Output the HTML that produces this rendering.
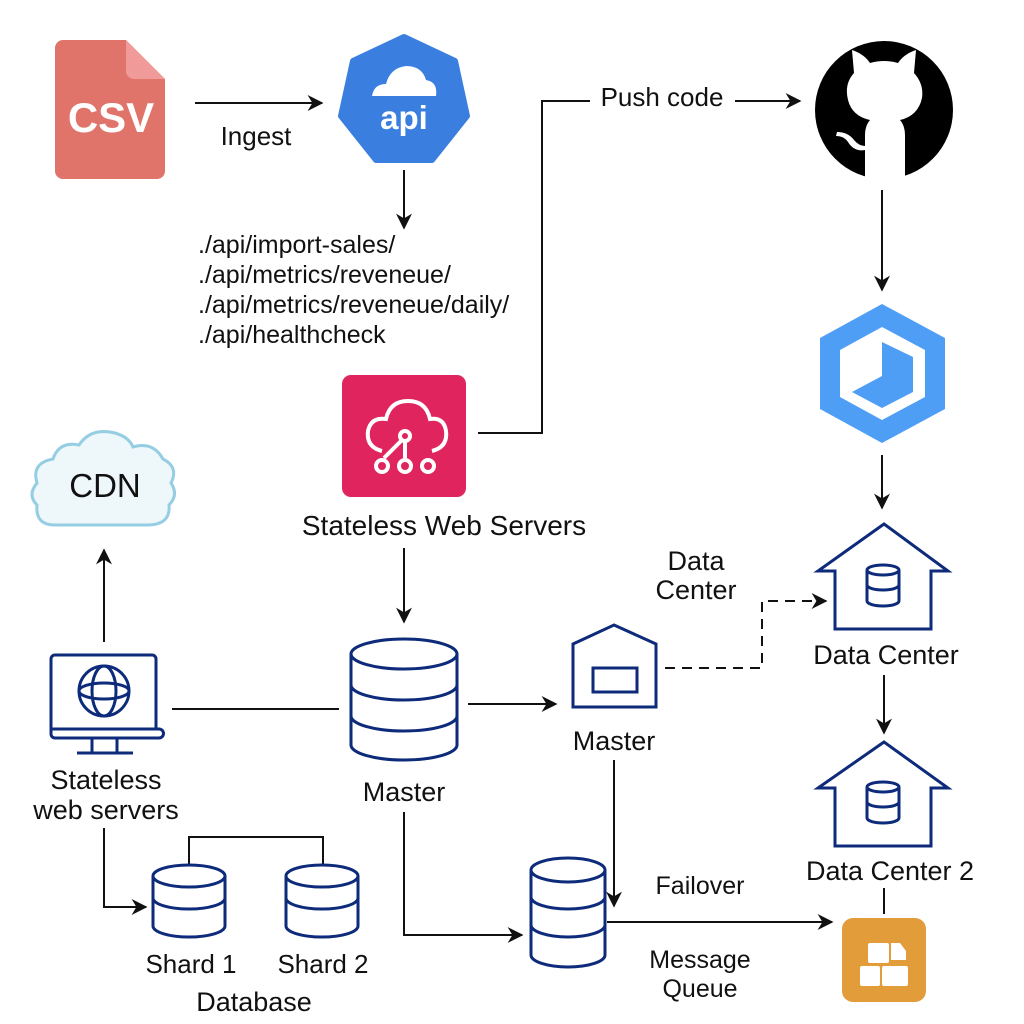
<!DOCTYPE html>
<html><head><meta charset="utf-8"><style>
html,body{margin:0;padding:0;background:#fff}
svg{display:block}
text{font-family:"Liberation Sans",sans-serif;fill:#111}
</style></head><body>
<svg width="1024" height="1024" viewBox="0 0 1024 1024" xmlns="http://www.w3.org/2000/svg">
<defs>
<marker id="b" viewBox="0 0 10 10" refX="9" refY="5" markerWidth="16" markerHeight="16" markerUnits="userSpaceOnUse" orient="auto"><path d="M0,0 L10,5 L0,10 L3,5 z" fill="#111"/></marker>
</defs>
<rect width="1024" height="1024" fill="#fff"/>
<g stroke="#111" stroke-width="2" fill="none">
<line x1="195" y1="103" x2="322" y2="103" marker-end="url(#b)"/>
<line x1="404" y1="170" x2="404" y2="228" marker-end="url(#b)"/>
<polyline points="478,433 542,433 542,101 590,101"/>
<line x1="735" y1="101" x2="800" y2="101" marker-end="url(#b)"/>
<line x1="882" y1="190" x2="882" y2="290" marker-end="url(#b)"/>
<line x1="882" y1="455" x2="882" y2="508" marker-end="url(#b)"/>
<line x1="884" y1="675" x2="884" y2="733" marker-end="url(#b)"/>
<line x1="884" y1="888" x2="884" y2="914"/>
<line x1="404" y1="548" x2="404" y2="622" marker-end="url(#b)"/>
<line x1="172" y1="709" x2="339" y2="709"/>
<line x1="468" y1="704" x2="556" y2="704" marker-end="url(#b)"/>
<polyline points="665,668 762,668 762,601 826,601" stroke-dasharray="10,7" marker-end="url(#b)"/>
<line x1="614" y1="760" x2="614" y2="906" marker-end="url(#b)"/>
<line x1="607" y1="922" x2="832" y2="922" marker-end="url(#b)"/>
<polyline points="404,812 404,935 522,935" marker-end="url(#b)"/>
<line x1="104" y1="642" x2="104" y2="550" marker-end="url(#b)"/>
<polyline points="104,828 104,907 146,907" marker-end="url(#b)"/>
<polyline points="189,865 189,837 323,837 323,865"/>
</g>
<!-- CSV -->
<path d="M63,40 H126 L165,79 V171 a8,8 0 0 1 -8,8 H63 a8,8 0 0 1 -8,-8 V48 a8,8 0 0 1 8,-8z" fill="#e0746b"/>
<path d="M126,40 L165,79 H134 a8,8 0 0 1 -8,-8z" fill="#f09a99"/>
<text x="111" y="132" font-size="42" font-weight="bold" text-anchor="middle" style="fill:#fff">CSV</text>
<text x="256" y="145" font-size="26" text-anchor="middle">Ingest</text>
<!-- API heptagon -->
<polygon points="404,37 455,61 467,116 432,160 376,160 341,116 353,61" fill="#3a7fe0" stroke="#3a7fe0" stroke-width="6" stroke-linejoin="round"/>
<path d="M372,96 q2,-12 14,-12 q4,-16 20,-18 q16,0 20,14 q12,2 10,16z" fill="#fff"/>
<text x="404" y="129" font-size="33" font-weight="bold" text-anchor="middle" style="fill:#fff">api</text>
<g font-size="25">
<text x="198" y="253">./api/import-sales/</text>
<text x="198" y="283">./api/metrics/reveneue/</text>
<text x="198" y="313">./api/metrics/reveneue/daily/</text>
<text x="198" y="343">./api/healthcheck</text>
</g>
<text x="662" y="106" font-size="26" text-anchor="middle">Push code</text>
<!-- GitHub -->
<circle cx="884" cy="110" r="69" fill="#000"/>
<path d="M854,73 L852,50 Q864,54 870,63 Q884,59 898,63 Q904,54 916,50 L914,73 Q924,84 922,98 Q918,116 900,120 Q905,126 905,135 V180 H865 V150 Q854,152 848,142 Q844,136 836,136 L837,132 Q848,132 854,140 Q859,146 865,146 V135 Q865,126 870,120 Q852,116 848,100 Q844,84 854,73 Z" fill="#fff"/>
<!-- blue hexagon -->
<polygon points="882,304 945,338 945,409 882,443 820,409 820,338" fill="#4f9ef5"/>
<polygon points="882,327 925,350 925,397 882,420 840,397 840,350" fill="#fff"/>
<polygon points="882,342 913,357 913,392 882,408 852,392 882,376" fill="#4f9ef5"/>
<g fill="none" stroke="#0d2b7a" stroke-width="3" stroke-linejoin="miter">
<polygon points="884,524 948,571 931,571 931,629 835,629 835,571 818,571"/>
<ellipse cx="883" cy="570" rx="16" ry="5"/><path d="M867,570 V601 a16,5 0 0 0 32,0 V570 M867,585 a16,5 0 0 0 32,0"/>
<polygon points="884,742 948,788 931,788 931,846 835,846 835,788 818,788"/>
<ellipse cx="883" cy="787" rx="16" ry="5"/><path d="M867,787 V818 a16,5 0 0 0 32,0 V787 M867,802 a16,5 0 0 0 32,0"/>
<polygon points="614,625 656,644 656,707 573,707 573,644"/>
<rect x="593" y="668" width="44" height="24"/>
<ellipse cx="404" cy="654" rx="53" ry="15"/>
<path d="M351,654 V745 a53,15 0 0 0 106,0 V654 M351,685 a53,15 0 0 0 106,0 M351,716 a53,15 0 0 0 106,0"/>
<ellipse cx="568" cy="870" rx="37" ry="12"/>
<path d="M531,870 V955 a37,12 0 0 0 74,0 V870 M531,897 a37,12 0 0 0 74,0 M531,925 a37,12 0 0 0 74,0"/>
<ellipse cx="189" cy="876" rx="36" ry="11"/>
<path d="M153,876 V926 a36,11 0 0 0 72,0 V876 M153,898 a36,11 0 0 0 72,0"/>
<ellipse cx="322" cy="876" rx="36" ry="11"/>
<path d="M286,876 V926 a36,11 0 0 0 72,0 V876 M286,898 a36,11 0 0 0 72,0"/>
<path d="M55,655 H152 a4,4 0 0 1 4,4 V729 H51 V659 a4,4 0 0 1 4,-4z M51,729 H159 a4,4 0 0 1 0,9 H55 a4,4 0 0 1 -4,-4z M92,738 V753 M117,738 V753 M77,753 H133"/>
<circle cx="104" cy="691" r="25"/>
<ellipse cx="104" cy="691" rx="12" ry="25"/>
<ellipse cx="104" cy="691" rx="25" ry="8"/>
</g>
<rect x="342" y="375" width="124" height="122" rx="9" fill="#e0245e"/>
<g fill="none" stroke="#fff" stroke-width="4">
<path d="M382,451 q-16,-4 -14,-20 q3,-14 18,-12 q4,-18 22,-18 q18,0 22,18 q14,-2 16,12 q2,16 -14,20"/>
<circle cx="405" cy="436" r="5"/><path d="M405,441 V458 M401,441 L384,458"/>
<circle cx="382" cy="466" r="6"/><circle cx="405" cy="466" r="6"/><circle cx="428" cy="466" r="6"/>
</g>
<rect x="842" y="918" width="84" height="84" rx="11" fill="#e39c3a"/>
<g fill="#fff"><rect x="868" y="943" width="21" height="20" rx="2"/><path d="M891,943 H900 L906,951 V960 H891z"/><rect x="860" y="966" width="20" height="20" rx="2"/><rect x="882" y="966" width="26" height="20" rx="2"/></g>
<path d="M55,525 q-20,0 -18,-20 q-10,-10 0,-22 q-6,-20 16,-24 q6,-18 26,-14 q12,-18 36,-12 q14,4 18,14 q20,-6 30,12 q16,8 8,24 q8,12 -2,22 q2,20 -22,20 z" fill="#eef7fa" stroke="#95cde2" stroke-width="3"/>
<text x="105" y="497" font-size="33" text-anchor="middle">CDN</text>
<g font-size="27" text-anchor="middle">
<text x="444" y="535" font-size="28">Stateless Web Servers</text>
<text x="696" y="570">Data</text><text x="696" y="599">Center</text>
<text x="886" y="664">Data Center</text>
<text x="890" y="880">Data Center 2</text>
<text x="614" y="750">Master</text>
<text x="404" y="801">Master</text>
<text x="106" y="789">Stateless</text><text x="106" y="819">web servers</text>
<text x="700" y="894" font-size="25">Failover</text>
<text x="700" y="968" font-size="25">Message</text><text x="700" y="997" font-size="25">Queue</text>
<text x="191" y="973" font-size="26">Shard 1</text>
<text x="323" y="973" font-size="26">Shard 2</text>
<text x="254" y="1011" font-size="27">Database</text>
</g>
</svg>
</body></html>
